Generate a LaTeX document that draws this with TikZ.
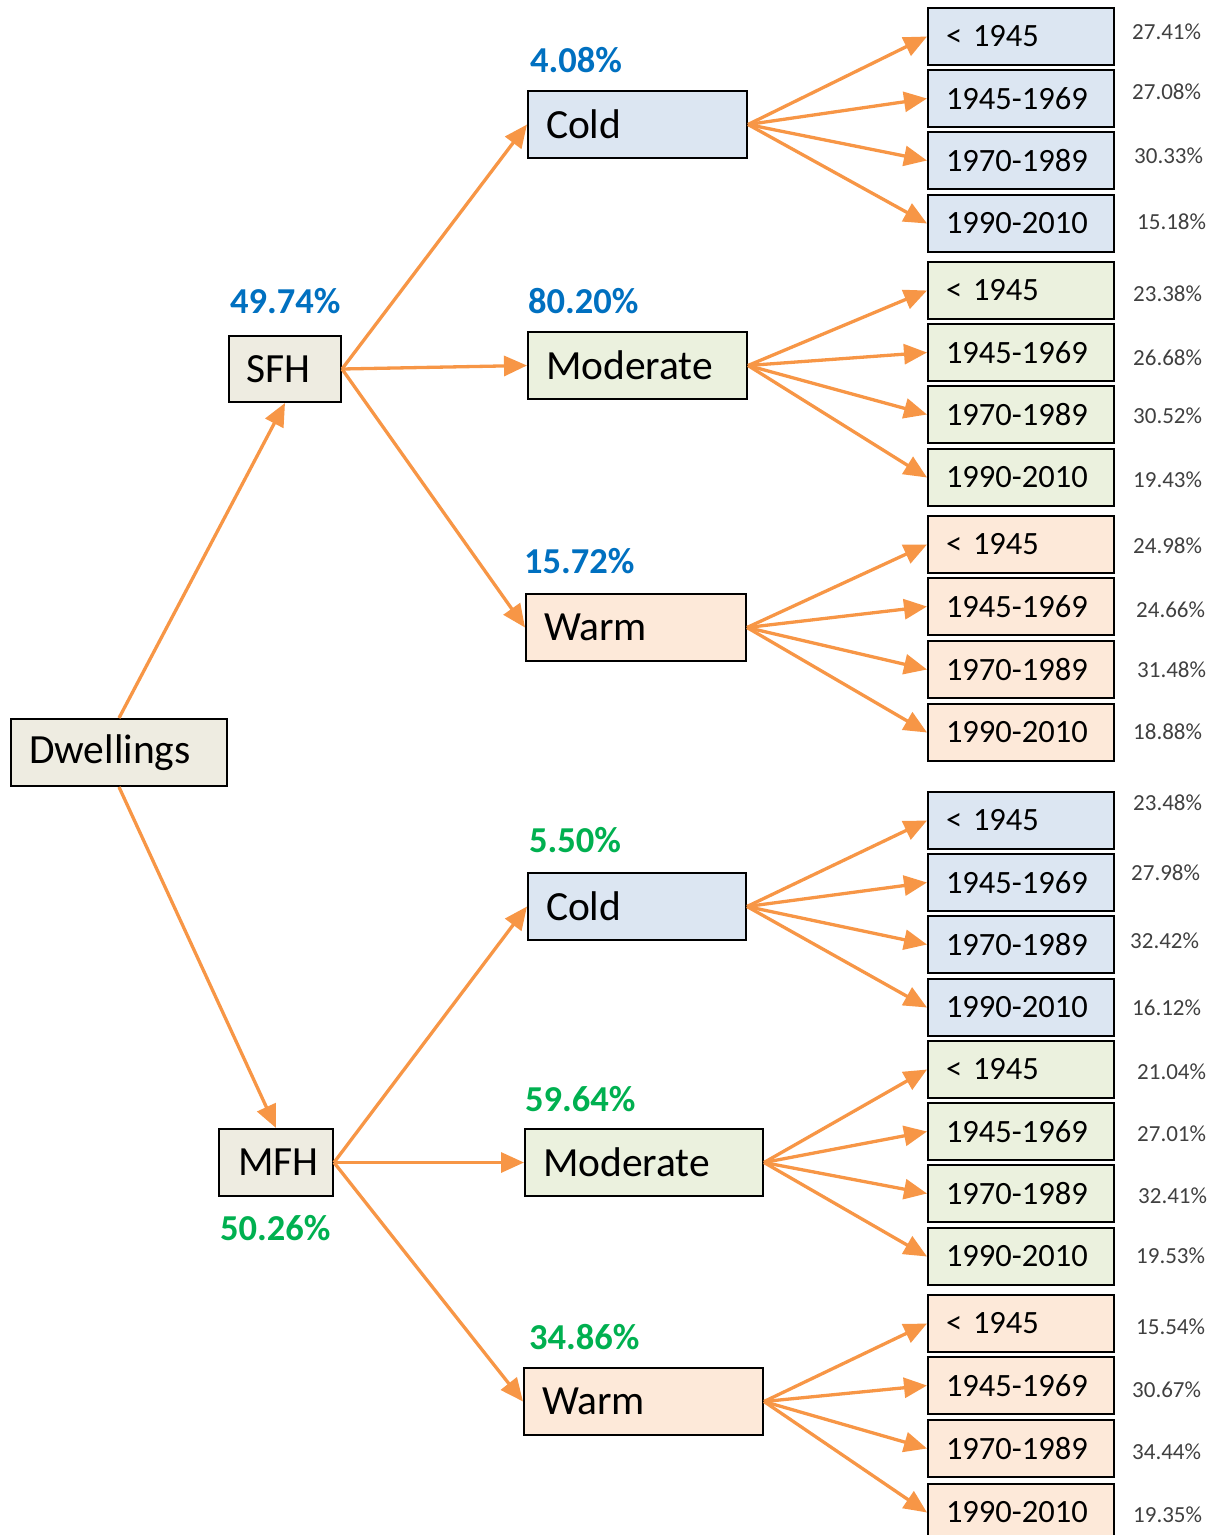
\documentclass[tikz,border=0pt]{standalone}
\usepackage{fontspec}
\setmainfont{Carlito}
\usetikzlibrary{arrows.meta}
\definecolor{beige}{HTML}{EEECE1}
\definecolor{cblue}{HTML}{DCE6F2}
\definecolor{cgreen}{HTML}{EBF1DE}
\definecolor{cpeach}{HTML}{FDE9D9}
\definecolor{arrorange}{HTML}{F79646}
\definecolor{pblue}{HTML}{0070C0}
\definecolor{pgreen}{HTML}{00B050}
\definecolor{pgray}{HTML}{404040}
\tikzset{
  bx/.style={draw=black, line width=2pt, inner xsep=18pt, inner ysep=0pt, align=left, anchor=north west},
  bigbox/.style={bx, minimum height=67pt, font=\fontsize{41.5}{45}\selectfont},
  agebox/.style={bx, minimum height=57pt, text width=150pt, font=\fontsize{32.5}{36}\selectfont},
  arr/.style={draw=arrorange, line width=3.3pt, -{Triangle[length=23pt,width=20pt]}},
  bpct/.style={anchor=west, inner sep=0pt, text=pblue, font=\bfseries\fontsize{36.5}{40}\selectfont},
  gpct/.style={anchor=west, inner sep=0pt, text=pgreen, font=\bfseries\fontsize{36.5}{40}\selectfont},
  spct/.style={anchor=west, inner sep=0pt, text=pgray, font=\fontsize{23}{26}\selectfont},
}
\newcommand{\agegroup}[4]{%
  \foreach \i/\lab/\y/\yc/\pct/\px in {#4}{%
    \node[agebox, fill=#3] (#2-\i) at (927,\y) {\lab};
    \node[spct] (#2-p\i) at (\px,\yc) {\pct\%};
    \draw[arr] (#1.east) -- (#2-\i.west);
  }%
}
\begin{document}
\begin{tikzpicture}[x=1pt,y=-1pt]
\useasboundingbox (0,0) rectangle (1215,1535);
% main nodes
\node[bigbox, fill=beige, text width=180pt] (dw) at (10,718) {Dwellings};
\node[bigbox, fill=beige, text width=78pt, inner xsep=17pt, minimum height=66pt] (sfh) at (228,335) {SFH};
\node[bigbox, fill=beige, text width=76pt, inner xsep=19pt] (mfh) at (218,1128) {MFH};
\node[bigbox, fill=cblue, text width=183pt] (sc) at (527,90) {Cold};
\node[bigbox, fill=cgreen, text width=183pt] (sm) at (527,331) {Moderate};
\node[bigbox, fill=cpeach, text width=184pt] (sw) at (525,593) {Warm};
\node[bigbox, fill=cblue, text width=182pt] (mc) at (527,872) {Cold};
\node[bigbox, fill=cgreen, text width=202pt] (mm) at (524,1128) {Moderate};
\node[bigbox, fill=cpeach, text width=203pt] (mw) at (523,1367) {Warm};
% main percentages
\node[bpct] (p-sfh) at (230,301) {49.74\%};
\node[bpct] (p-sc) at (530,60) {4.08\%};
\node[bpct] (p-sm) at (528,301) {80.20\%};
\node[bpct] (p-sw) at (524,561) {15.72\%};
\node[gpct] (p-mfh) at (220,1228) {50.26\%};
\node[gpct] (p-mc) at (529,840) {5.50\%};
\node[gpct] (p-mm) at (525,1099) {59.64\%};
\node[gpct] (p-mw) at (529,1337) {34.86\%};
% arrows
\draw[arr] (dw.north) -- (sfh.south);
\draw[arr] (dw.south) -- (mfh.north);
\draw[arr] (sfh.east) -- (sc.west);
\draw[arr] (sfh.east) -- (sm.west);
\draw[arr] (sfh.east) -- (sw.west);
\draw[arr] (mfh.east) -- (mc.west);
\draw[arr] (mfh.east) -- (mm.west);
\draw[arr] (mfh.east) -- (mw.west);
% age groups
\agegroup{sc}{a}{cblue}{1/{< 1945}/7/32/27.41/1132, 2/{1945-1969}/69/92/27.08/1132, 3/{1970-1989}/131/156/30.33/1134, 4/{1990-2010}/194/222/15.18/1137}
\agegroup{sm}{b}{cgreen}{1/{< 1945}/261/294/23.38/1133, 2/{1945-1969}/323/358/26.68/1133, 3/{1970-1989}/385/416/30.52/1133, 4/{1990-2010}/448/480/19.43/1133}
\agegroup{sw}{c}{cpeach}{1/{< 1945}/515/546/24.98/1133, 2/{1945-1969}/577/610/24.66/1136, 3/{1970-1989}/640/670/31.48/1137, 4/{1990-2010}/703/732/18.88/1133}
\agegroup{mc}{d}{cblue}{1/{< 1945}/791/803/23.48/1133, 2/{1945-1969}/853/873/27.98/1131, 3/{1970-1989}/915/941/32.42/1130, 4/{1990-2010}/978/1008/16.12/1132}
\agegroup{mm}{e}{cgreen}{1/{< 1945}/1040/1072/21.04/1137, 2/{1945-1969}/1102/1134/27.01/1137, 3/{1970-1989}/1164/1196/32.41/1138, 4/{1990-2010}/1227/1256/19.53/1136}
\agegroup{mw}{f}{cpeach}{1/{< 1945}/1294/1327/15.54/1136, 2/{1945-1969}/1356/1390/30.67/1132, 3/{1970-1989}/1419/1452/34.44/1132, 4/{1990-2010}/1483/1515/19.35/1133}
\end{tikzpicture}
\end{document}
